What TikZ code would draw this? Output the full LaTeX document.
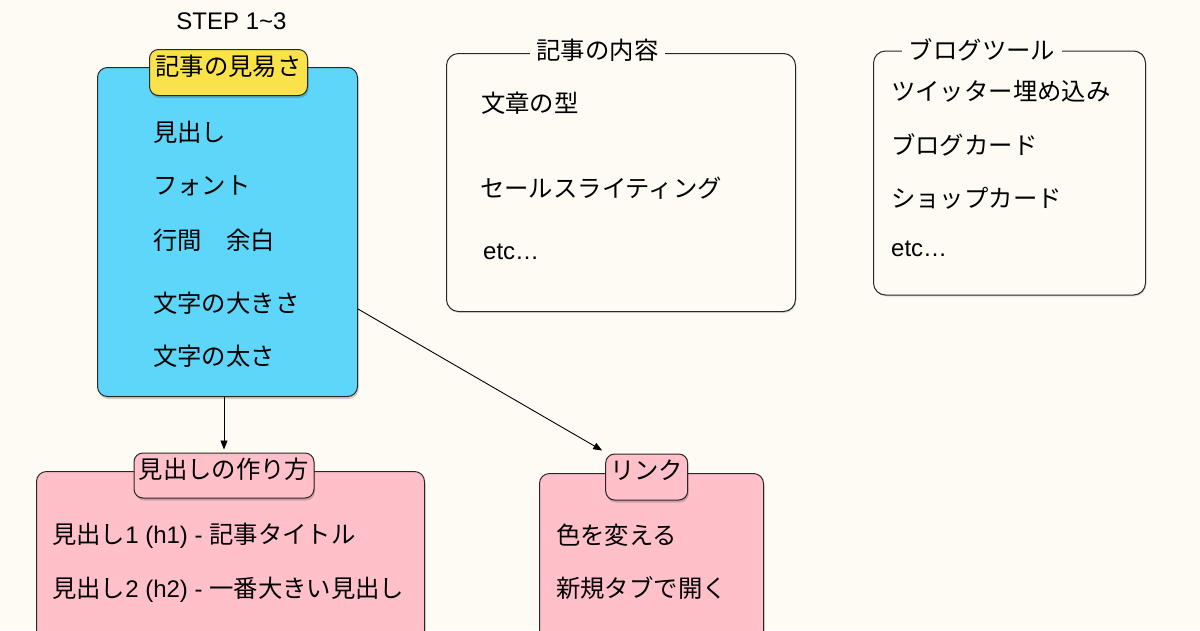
\documentclass[tikz,border=0pt]{standalone}
\usepackage{fontspec}
\setmainfont{Liberation Sans}
\newfontfamily\jp[Scale=1.015]{Noto Sans CJK JP}
\usetikzlibrary{shadows,arrows.meta}
\definecolor{bg}{RGB}{253,251,244}
\definecolor{bluefill}{RGB}{94,214,250}
\definecolor{yellowfill}{RGB}{250,226,75}
\definecolor{pinkfill}{RGB}{255,192,202}
\definecolor{edge}{RGB}{40,40,40}
\begin{document}
\begin{tikzpicture}[x=1pt,y=-1pt,
  every node/.style={font=\fontsize{24}{28}\selectfont},
  item/.style={anchor=west, inner sep=0pt, text height=18.2pt, text depth=0pt},
  shade/.style={drop shadow={shadow xshift=1pt, shadow yshift=-2.5pt, opacity=0.18, fill=black}},
  panel/.style={draw=edge, line width=1pt, rounded corners=10pt, anchor=north west, inner sep=0pt},
  plain/.style={panel, fill=bg, rounded corners=12pt, drop shadow={shadow xshift=0.8pt, shadow yshift=-1.5pt, opacity=0.12, fill=black}},
  tag/.style={draw=edge, line width=1pt, rounded corners=9pt, inner xsep=0pt, inner ysep=0pt, text height=18.2pt, text depth=13pt, shade},
  titlelab/.style={fill=bg, inner xsep=7pt, inner ysep=2pt, text height=18.2pt, text depth=0pt},
  arr/.style={-{Triangle[length=9pt,width=7pt]}, line width=0.9pt, draw=black}
]
\fill[bg] (0,0) rectangle (1200,630);
\useasboundingbox (0,0) rectangle (1200,630);
\clip (0,0) rectangle (1200,630);

% title
\node[item, anchor=center] (step) at (231.5,20) {STEP 1\textasciitilde 3};

% blue panel
\node[panel, fill=bluefill, shade, minimum width=260pt, minimum height=329pt] (blue) at (97,67) {};
\node[tag, fill=yellowfill, minimum width=158pt, minimum height=46pt] (t1) at (228.5,72.5) {\jp 記事の見易さ};
\node[item] (b1) at (153,132) {\jp 見出し};
\node[item] (b2) at (153,185) {\jp フォント};
\node[item] (b3) at (153,240) {\jp 行間　余白};
\node[item] (b4) at (153,303) {\jp 文字の大きさ};
\node[item] (b5) at (153,356) {\jp 文字の太さ};

% pink panel 1
\node[panel, fill=pinkfill, shade, minimum width=388pt, minimum height=220pt] (p1) at (36,471) {};
\node[tag, fill=pinkfill, minimum width=180pt, minimum height=45pt] (pt1) at (224,475.5) {\jp 見出しの作り方};
\node[item] (p1a) at (52,534) {{\jp 見出し}1 (h1) - {\jp 記事タイトル}};
\node[item] (p1b) at (52,588) {{\jp 見出し}2 (h2) - {\jp 一番大きい見出し}};

% pink panel 2
\node[panel, fill=pinkfill, shade, minimum width=224pt, minimum height=220pt] (p2) at (539,473) {};
\node[tag, fill=pinkfill, minimum width=82pt, minimum height=46pt] (pt2) at (646.7,477) {\jp リンク};
\node[item] (p2a) at (556,535) {\jp 色を変える};
\node[item] (p2b) at (556,588) {\jp 新規タブで開く};

% connectors
\draw[arr, shorten >=3pt] (blue.south -| pt1.north) -- (pt1.north);
\draw[arr] ([yshift=88pt]blue.south east) -- ([xshift=-3pt,yshift=3pt]pt2.north west);

% content panel
\node[plain, minimum width=349pt, minimum height=258pt] (c1) at (446,53) {};
\node[titlelab] (c1t) at (597.5,50) {\jp 記事の内容};
\node[item] (c1a) at (481,103) {\jp 文章の型};
\node[item] (c1b) at (480,188) {\jp セールスライティング};
\node[item] (c1c) at (483,250) {etc…};

% blog tools panel
\node[plain, minimum width=272pt, minimum height=244pt] (c2) at (873,50.5) {};
\node[titlelab] (c2t) at (982,50) {\jp ブログツール};
\node[item] (c2a) at (891,91) {\jp ツイッター埋め込み};
\node[item] (c2b) at (891,145) {\jp ブログカード};
\node[item] (c2c) at (891,198) {\jp ショップカード};
\node[item] (c2d) at (891,247) {etc…};
\end{tikzpicture}
\end{document}
